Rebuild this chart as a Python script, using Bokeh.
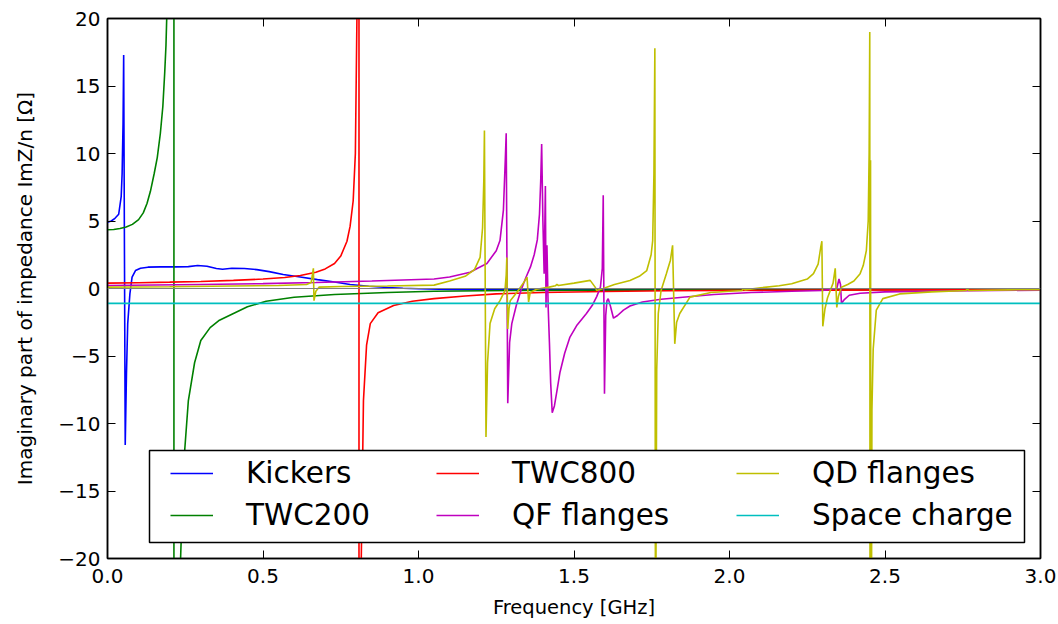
from bokeh.plotting import figure
from bokeh.models import (Legend, LegendItem, LinearAxis, FixedTicker, Span,
                          Range1d, CustomJSTickFormatter, BoxAnnotation,
                          CustomLabelingPolicy)
from bokeh.embed import file_html
from bokeh.resources import INLINE

# ---------------- data ----------------
kick_f = [0.0, 0.012, 0.024, 0.036, 0.044, 0.047, 0.050, 0.052, 0.057, 0.061, 0.065,
          0.072, 0.079, 0.09, 0.106, 0.13, 0.17, 0.22, 0.26, 0.29, 0.32, 0.35, 0.37,
          0.40, 0.44, 0.48, 0.52, 0.565, 0.62, 0.675, 0.73, 0.78, 0.84, 0.9, 0.95,
          1.0, 1.1, 1.3, 1.6, 2.0, 2.5, 3.0]
kick_v = [4.9, 5.0, 5.2, 5.5, 6.8, 8.5, 12.2, 17.3, -11.6, -6.3, -2.6,
          -0.4, 0.84, 1.33, 1.5, 1.58, 1.6, 1.6, 1.62, 1.7, 1.65, 1.48, 1.42,
          1.5, 1.48, 1.4, 1.25, 1.04, 0.85, 0.66, 0.48, 0.3, 0.17, 0.07, 0.02,
          -0.02, -0.07, -0.1, -0.1, -0.08, -0.06, -0.05]

twc200_f = [0.0, 0.02, 0.04, 0.06, 0.08, 0.1, 0.115, 0.127, 0.138, 0.15, 0.16, 0.17,
            0.178, 0.184, 0.188, 0.191, 0.2, 0.21, 0.2135, 0.2137, 0.22, 0.23, 0.235,
            0.245, 0.26, 0.28, 0.30, 0.33, 0.36, 0.405, 0.45, 0.51, 0.6, 0.73, 0.9,
            1.05, 1.3, 1.6, 2.0, 2.5, 3.0]
twc200_v = [4.35, 4.37, 4.45, 4.55, 4.75, 5.1, 5.6, 6.3, 7.2, 8.5, 9.7, 11.5,
            13.5, 16.0, 18.0, 20.5, 35, 150, 5000, -5000, -120, -35, -20,
            -13, -8.3, -5.5, -3.85, -2.9, -2.35, -1.85, -1.35, -0.95, -0.65, -0.45, -0.3,
            -0.2, -0.15, -0.12, -0.1, -0.09, -0.08]

twc800_f = [0.0, 0.1, 0.2, 0.3, 0.405, 0.5, 0.57, 0.62, 0.67, 0.70, 0.73, 0.75, 0.77,
            0.78, 0.79, 0.797, 0.802, 0.806, 0.8085, 0.8088, 0.812, 0.816, 0.823,
            0.833, 0.845, 0.87, 0.92, 0.98, 1.05, 1.15, 1.25, 1.4, 1.6, 1.8, 2.0,
            2.3, 2.6, 3.0]
twc800_v = [0.4, 0.43, 0.47, 0.52, 0.6, 0.7, 0.82, 0.96, 1.2, 1.45, 1.85, 2.4, 3.5,
            4.6, 6.5, 10, 20, 60, 5000, -5000, -60, -20, -8.3,
            -4.2, -2.6, -1.8, -1.26, -0.95, -0.75, -0.55, -0.4, -0.3, -0.22, -0.17, -0.14,
            -0.12, -0.1, -0.09]

qf_f = [0.0, 0.3, 0.5, 0.67, 0.85, 1.05, 1.1, 1.166, 1.19, 1.22, 1.25, 1.262, 1.273,
        1.279, 1.282, 1.287, 1.293, 1.30, 1.315, 1.33, 1.345, 1.36, 1.372, 1.382,
        1.389, 1.393, 1.396, 1.400, 1.404, 1.408, 1.41, 1.413, 1.417, 1.421, 1.425,
        1.43, 1.437, 1.445, 1.455, 1.47, 1.487, 1.51, 1.54, 1.56, 1.573, 1.585,
        1.591, 1.594, 1.598, 1.602, 1.606, 1.61, 1.617, 1.627, 1.64, 1.659, 1.68,
        1.72, 1.78, 1.85, 1.95, 2.07, 2.2, 2.3, 2.345, 2.352, 2.357, 2.36, 2.37,
        2.385, 2.42, 2.5, 2.7, 3.0]
qf_v = [0.22, 0.3, 0.36, 0.45, 0.55, 0.7, 0.85, 1.2, 1.5, 1.85, 2.8, 3.55, 5.8,
        9.5, 11.5, -8.5, -4.0, -2.6, -1.2, -0.1, 0.8, 1.6, 2.5, 3.6,
        5.5, 8.0, 10.7, 5.0, 1.1, 7.6, -1.4, 3.2, -1.4, -4.0, -7.0,
        -9.2, -8.7, -7.6, -6.2, -4.8, -3.6, -2.7, -1.85, -1.2, -0.6, 0.1,
        1.5, 6.9, -7.8, -2.0, -0.9, -0.75, -1.3, -2.2, -2.0, -1.6, -1.3,
        -1.0, -0.8, -0.65, -0.45, -0.3, -0.2, -0.15, 0.0, 0.7, 0.3, -1.1, -0.8,
        -0.5, -0.35, -0.25, -0.18, -0.12]

qd_f = [0.0, 0.2, 0.4, 0.55, 0.64, 0.655, 0.662, 0.664, 0.67, 0.68, 0.75, 0.9, 1.05,
        1.1, 1.15, 1.18, 1.198, 1.206, 1.21, 1.212, 1.217, 1.222, 1.23, 1.245, 1.262,
        1.278, 1.282, 1.284, 1.287, 1.291, 1.295, 1.316, 1.343, 1.349, 1.354, 1.359,
        1.38, 1.42, 1.44, 1.445, 1.45, 1.5, 1.552, 1.568, 1.573, 1.594, 1.63, 1.68,
        1.71, 1.734, 1.748, 1.753, 1.757, 1.760, 1.762, 1.766, 1.771, 1.78, 1.797,
        1.81, 1.817, 1.824, 1.83, 1.84, 1.873, 1.94, 2.04, 2.045, 2.05, 2.1, 2.16,
        2.2, 2.25, 2.27, 2.285, 2.293, 2.297, 2.300, 2.307, 2.315, 2.333, 2.34,
        2.345, 2.35, 2.36, 2.38, 2.40, 2.42, 2.43, 2.44, 2.446, 2.449, 2.451, 2.452,
        2.4535, 2.455, 2.458, 2.462, 2.472, 2.493, 2.547, 2.65, 2.76, 2.765, 2.77,
        2.9, 3.0]
qd_v = [0.1, 0.13, 0.18, 0.22, 0.3, 0.45, 1.5, -0.9, -0.2, 0.1, 0.15, 0.18, 0.25,
        0.55, 0.9, 1.4, 2.3, 4.5, 8.0, 11.7, -11.0, -5.5, -2.6, -1.5, -0.9,
        -0.15, 1.0, 2.3, -3.0, -1.5, -0.9, -0.3, 0.6, 0.84, -1.0, -0.3,
        -0.05, 0.1, 0.2, 0.3, 0.22, 0.4, 0.6, 0.1, -0.15, 0.0, 0.3, 0.6,
        0.9, 1.33, 2.5, 3.55, 8.5, 17.8, -30, -6.0, -1.85, -0.15, 1.1,
        2.1, 3.2, -4.1, -2.5, -1.85, -0.64, -0.3, -0.15, 0.0, -0.1, 0.05, 0.2,
        0.35, 0.7, 1.1, 1.8, 3.0, 3.5, -2.8, -1.5, -0.7, 0.4, 1.5,
        -1.4, -0.6, 0.1, 0.3, 0.55, 1.1, 1.7, 2.8, 5.0, 10.0, 19.0, -30,
        9.5, -40, -9.0, -4.5, -1.6, -0.75, -0.4, -0.25, -0.15, -0.05, -0.15,
        -0.1, -0.08]

sc_f = [0.0, 3.0]
sc_v = [-1.1, -1.1]

series = [
    ("Kickers", kick_f, kick_v, "#0000ff"),
    ("TWC200", twc200_f, twc200_v, "#008000"),
    ("TWC800", twc800_f, twc800_v, "#ff0000"),
    ("QF flanges", qf_f, qf_v, "#bf00bf"),
    ("QD flanges", qd_f, qd_v, "#bfbf00"),
    ("Space charge", sc_f, sc_v, "#00bfbf"),
]

x_ticks = [0.0, 0.5, 1.0, 1.5, 2.0, 2.5, 3.0]
y_ticks = [-20, -15, -10, -5, 0, 5, 10, 15, 20]

FONT = "DejaVu Sans"

# ---------------- figure ----------------
p = figure(width=1058, height=624, output_backend="svg", toolbar_location=None,
           x_range=Range1d(0, 3), y_range=Range1d(-20, 20),
           min_border_left=107, min_border_right=18, min_border_top=18,
           min_border_bottom=66)
p.xgrid.visible = False
p.ygrid.visible = False
p.outline_line_color = "black"
p.outline_line_width = 1.5
p.background_fill_color = "white"
p.border_fill_color = "white"

p.add_layout(Span(location=0, dimension="width", line_color="#808080", line_width=1))

renderers = []
for name, f, v, c in series:
    r = p.line(f, v, line_color=c, line_width=1.6)
    renderers.append((name, r))

xfmt = CustomJSTickFormatter(code="return tick.toFixed(1);")
yfmt = CustomJSTickFormatter(code="return tick < 0 ? '\u2212' + Math.abs(tick) : String(tick);")
no_labels = CustomLabelingPolicy(code="for (const i of indices) indices.unset(i)")

def style_axis(ax, ticks, fmt, labels=True):
    ax.ticker = FixedTicker(ticks=ticks)
    ax.formatter = fmt
    ax.minor_tick_line_color = None
    ax.major_tick_in = 8
    ax.major_tick_out = 0
    ax.major_tick_line_color = "black"
    ax.major_tick_line_width = 1
    ax.axis_line_color = "black"
    ax.axis_line_width = 1.5
    ax.major_label_text_font = FONT
    ax.major_label_text_color = "black"
    ax.axis_label_text_font = FONT
    ax.axis_label_text_font_style = "normal"
    ax.axis_label_text_color = "black"
    if not labels:
        ax.major_label_text_font_size = "1px"
        ax.major_label_standoff = 0
        ax.major_label_policy = no_labels

xa = p.xaxis[0]
style_axis(xa, x_ticks, xfmt)
xa.major_label_text_font_size = "20px"
xa.major_label_standoff = 10
xa.axis_label = "Frequency [GHz]"
xa.axis_label_text_font_size = "19.5px"
xa.axis_label_standoff = 10

ya = p.yaxis[0]
style_axis(ya, y_ticks, yfmt)
ya.major_label_text_font_size = "20px"
ya.major_label_standoff = 7
ya.axis_label = "Imaginary part of impedance ImZ/n [\u03A9]"
ya.axis_label_text_font_size = "20px"
ya.axis_label_standoff = 18

top = LinearAxis()
style_axis(top, x_ticks, xfmt, labels=False)
p.add_layout(top, "above")
right = LinearAxis()
style_axis(right, y_ticks, yfmt, labels=False)
p.add_layout(right, "right")

# legend frame (screen units, relative to the plot frame)
box = BoxAnnotation(left=42, right=917, bottom=16, top=108,
                    left_units="screen", right_units="screen",
                    bottom_units="screen", top_units="screen",
                    fill_color="white", fill_alpha=1.0,
                    line_color="black", line_width=1.5, line_alpha=1.0)
p.add_layout(box)

col_x = [63, 329, 629]
for ci in range(3):
    its = [LegendItem(label=n, renderers=[r]) for n, r in renderers[2 * ci:2 * ci + 2]]
    lg = Legend(items=its, location=(col_x[ci], 22), orientation="vertical")
    lg.label_text_font = FONT
    lg.label_text_font_size = "29.5px"
    lg.label_text_color = "black"
    lg.glyph_width = 43
    lg.glyph_height = 42
    lg.label_height = 42
    lg.label_standoff = 33
    lg.padding = 0
    lg.spacing = 0
    lg.margin = 0
    lg.border_line_color = None
    lg.background_fill_alpha = 0.0
    p.add_layout(lg)

open("out.html", "w").write(file_html(p, INLINE))
